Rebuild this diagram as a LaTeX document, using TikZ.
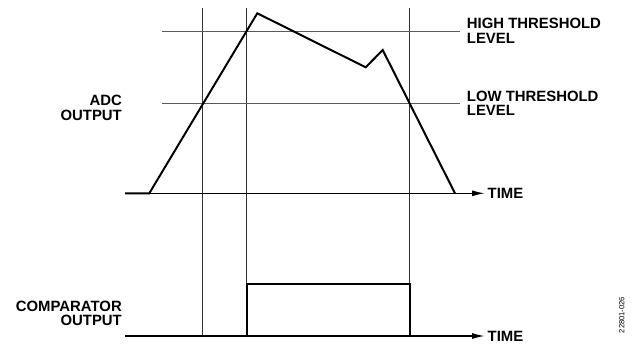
\documentclass[tikz,border=0pt]{standalone}
\usepackage{fontspec}
\setmainfont{Liberation Sans}
\usetikzlibrary{arrows.meta}
\begin{document}
\begin{tikzpicture}[x=1pt,y=-1pt,
  lbl/.style={inner sep=0pt,font=\fontsize{14.9}{14.5}\selectfont\bfseries},
  grid/.style={line width=1pt,draw=black!80},
  thr/.style={line width=1pt,draw=black!65},
  wave/.style={line width=2pt,line join=miter},
  axis/.style={line width=1.5pt,-{Latex[length=13pt,width=6pt]}}]
\useasboundingbox (0,0) rectangle (633,346);
% coordinates
\coordinate (v1t) at (202.7,8);   \coordinate (v1b) at (202.7,336);
\coordinate (v2t) at (246.5,8);   \coordinate (v2b) at (246.5,336);
\coordinate (v3t) at (409.5,8);   \coordinate (v3b) at (409.5,336);
\coordinate (hl) at (161.7,31.7); \coordinate (hr) at (460,31.7);
\coordinate (ll) at (161.7,103.3); \coordinate (lr) at (460,103.3);
\coordinate (a0) at (125,193.3);  \coordinate (aend) at (485,193.3);
\coordinate (w0) at (149.3,193.3);
\coordinate (w1) at (257.3,13.3);
\coordinate (w2) at (365.7,67.3);
\coordinate (w3) at (382.7,50);
\coordinate (w4) at (455,193.3);
\coordinate (b0) at (125,336);    \coordinate (bend) at (485,336);
\coordinate (p0) at (246.5,336);  \coordinate (p1) at (246.5,284);
\coordinate (p2) at (409.5,284);  \coordinate (p3) at (409.5,336);
% grid
\draw[grid] (v1t) -- (v1b);
\draw[grid] (v2t) -- (v2b);
\draw[grid] (v3t) -- (v3b);
\draw[thr] (hl) -- (hr);
\draw[thr] (ll) -- (lr);
% axes
\draw[axis] (a0) -- (aend);
\draw[axis] (b0) -- (bend);
% waveforms
\draw[wave] (a0) -- (w0) -- (w1) -- (w2) -- (w3) -- (w4);
\draw[wave] (b0) -- (p0) -- (p1) -- (p2) -- (p3);
% labels
\node[lbl,anchor=north west,align=left] (hi) at (466.7,18.3) {HIGH THRESHOLD\\LEVEL};
\node[lbl,anchor=north west,align=left] (lo) at (466.7,90.7) {LOW THRESHOLD\\LEVEL};
\node[lbl,anchor=west] (t1) at (487.5,193.8) {TIME};
\node[lbl,anchor=west] (t2) at (487.5,336.3) {TIME};
\node[lbl,anchor=north east,align=right] (adc) at (122,95) {ADC\\OUTPUT};
\node[lbl,anchor=north east,align=right] (cmp) at (122,300.7) {COMPARATOR\\OUTPUT};
\node[inner sep=0pt,rotate=90,font=\fontsize{7.6}{8}\selectfont] (id) at (621.7,315) {22801-026};
\end{tikzpicture}
\end{document}
